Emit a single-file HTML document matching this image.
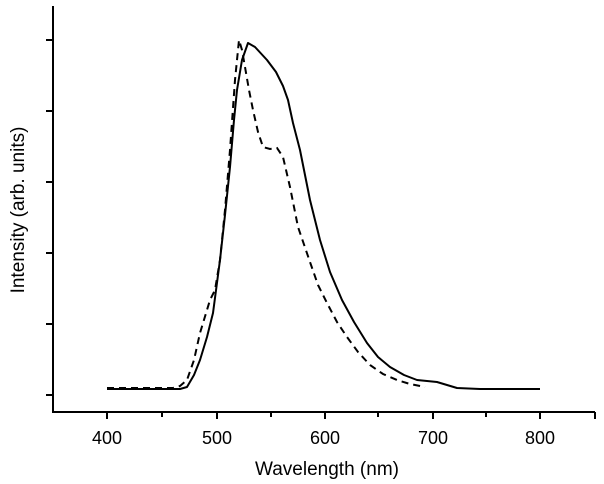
<!DOCTYPE html>
<html><head><style>body{margin:0;background:#fff}svg{display:block}</style></head><body>
<svg width="604" height="484" xmlns="http://www.w3.org/2000/svg" font-family="Liberation Sans, sans-serif">
<g stroke="#000" stroke-width="2" fill="none">
<line x1="53" y1="6" x2="53" y2="413"/>
<line x1="52" y1="412" x2="595" y2="412"/>
<path d="M46 395H53M46 324H53M46 253H53M46 182H53M46 111H53M46 40H53"/>
<path d="M107 412v7M217 412v7M325 412v7M433 412v7M540 412v7M595 412v7M162 412v5M271 412v5M378 412v5M486 412v5"/>
</g>
<path fill="none" stroke="#000" stroke-width="2" stroke-linejoin="round" d="M107 389 L180 389 L187 387 L194 375 L200 360 L207 337 L213 313 L220 260 L225 215 L230 167 L234 120 L237 90 L242 60 L248 43 L255 47 L267 60 L276 72 L283 86 L288 100 L293 123 L300 150 L310 200 L320 240 L330 272 L342 300 L354 322 L367 343 L378 357 L390 367 L404 375 L417 380 L437 382 L447 385 L457 388 L480 389 L540 389"/>
<path fill="none" stroke="#000" stroke-width="2" stroke-dasharray="7,5" d="M107 388 L173 388 L180 386 L187 380 L194 360 L200 333 L210 300 L215 290 L220 260 L225 210 L230 150 L235 80 L239 40 L242 50 L245 67 L249 90 L253 110 L258 132 L263 147 L270 149 L277 148 L283 157 L290 187 L298 227 L310 262 L318 285 L327 303 L337 322 L347 337 L358 352 L370 365 L383 374 L397 380 L410 384 L425 387"/>
<g font-size="18" text-anchor="middle" fill="#000">
<text x="107" y="444">400</text><text x="217" y="444">500</text><text x="325" y="444">600</text><text x="433" y="444">700</text><text x="540" y="444">800</text>
<text x="327" y="475" font-size="19">Wavelength (nm)</text>
<text transform="translate(24,210) rotate(-90)" font-size="19">Intensity (arb. units)</text>
</g>
</svg>
</body></html>
